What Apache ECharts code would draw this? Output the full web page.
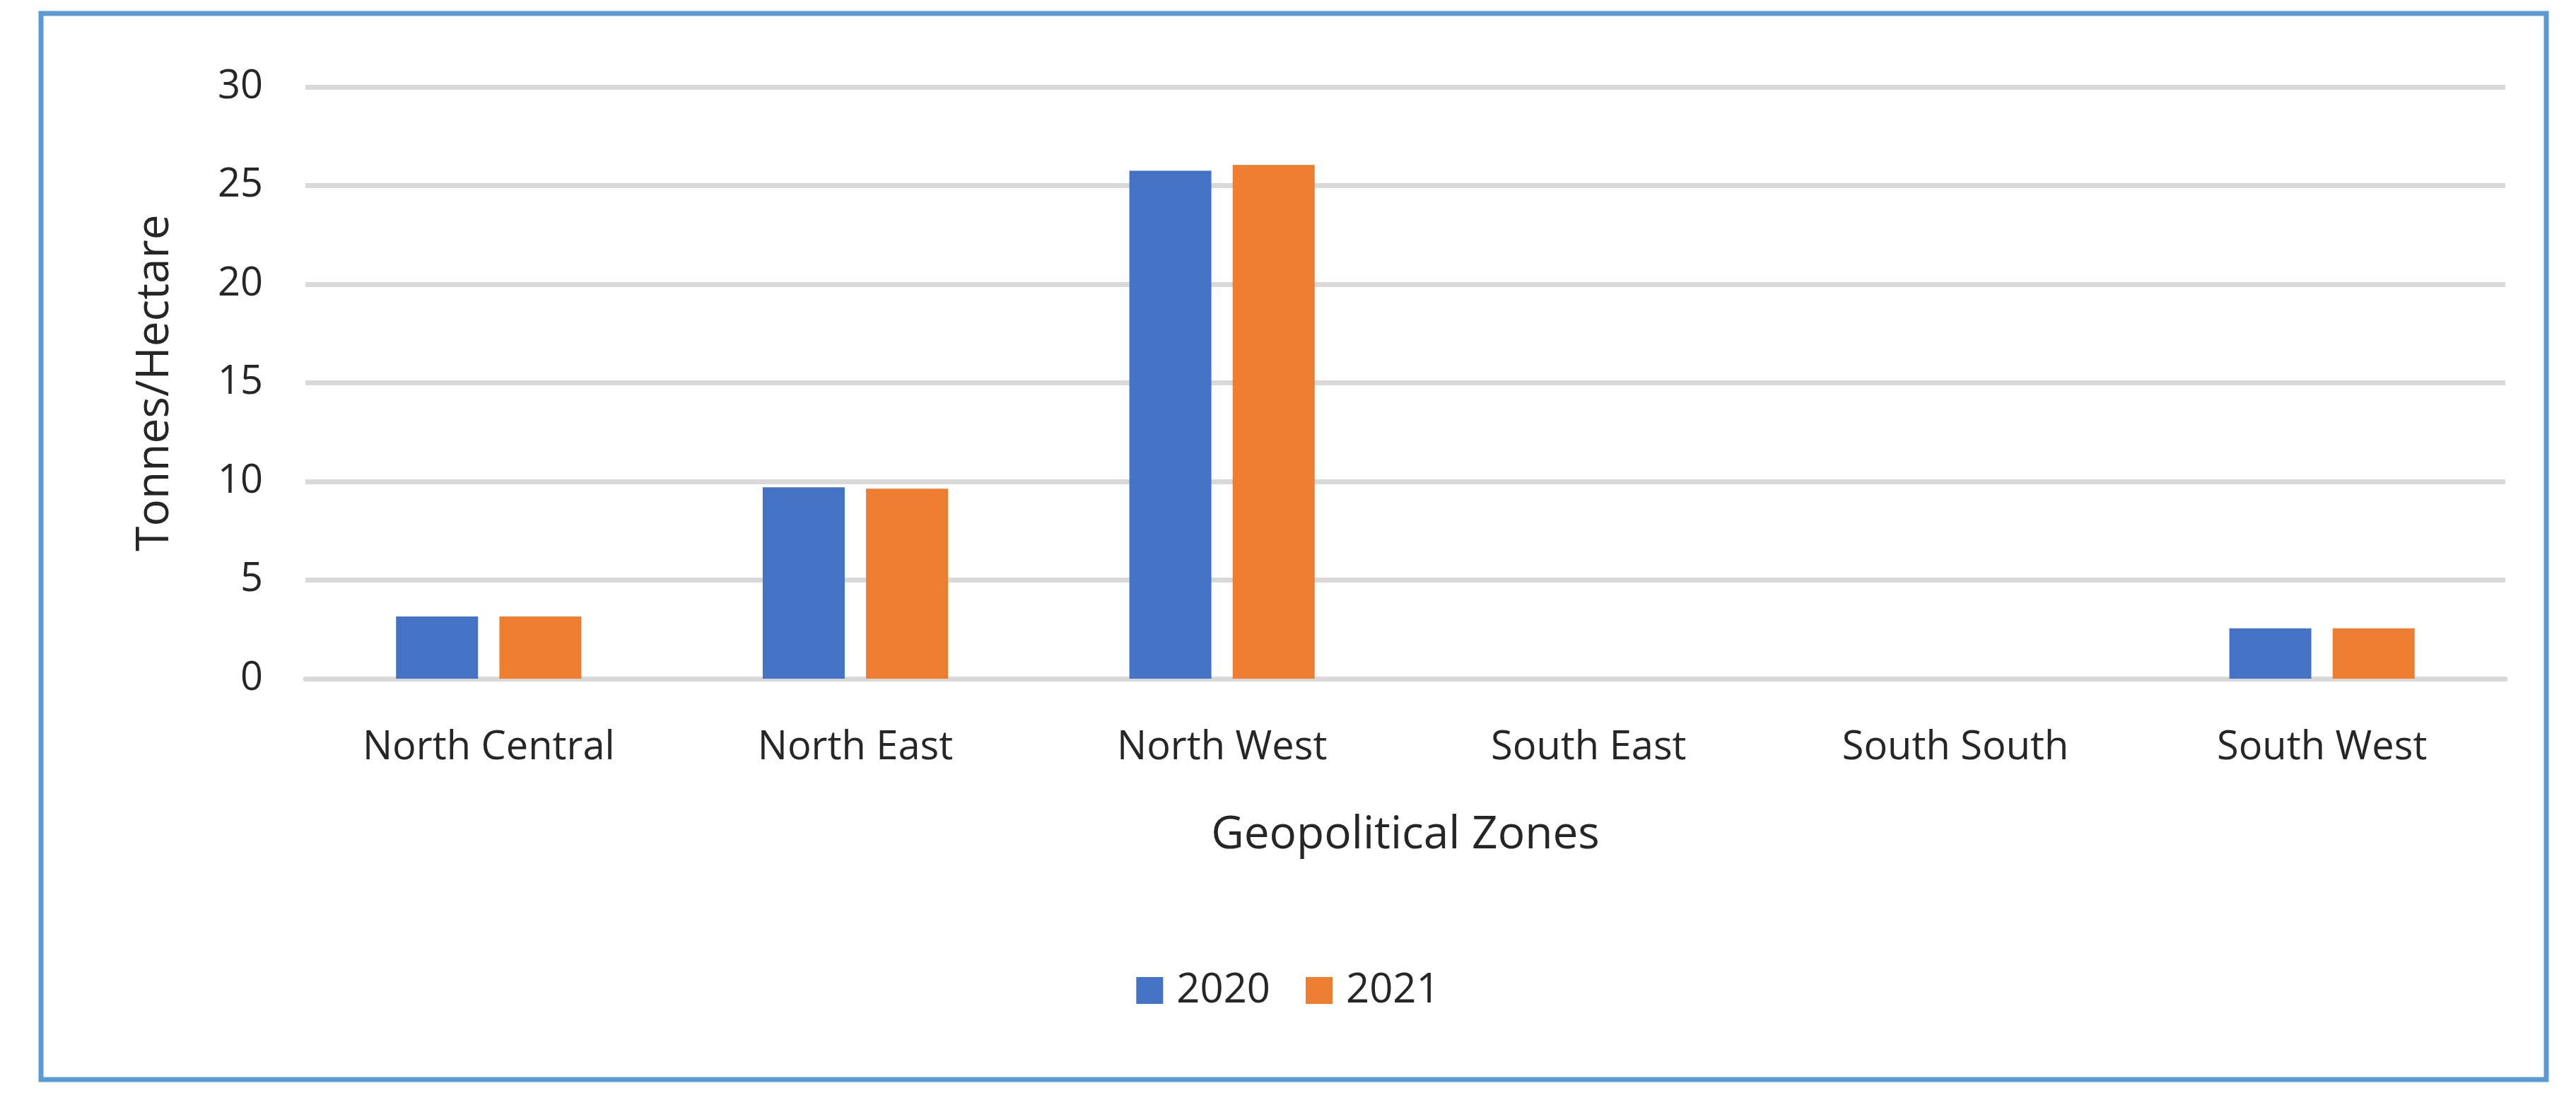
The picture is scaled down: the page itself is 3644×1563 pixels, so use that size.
<!DOCTYPE html>
<html>
<head>
<meta charset="utf-8">
<script src="https://cdn.jsdelivr.net/npm/echarts@6/dist/echarts.min.js"></script>
<style>
  html, body { margin: 0; padding: 0; background: #fff; }
  #chart { width: 3644px; height: 1563px; }
</style>
</head>
<body>
<div id="chart"></div>
<script>
// 地域区分
const zones = ['North Central', 'North East', 'North West', 'South East', 'South South', 'South West'];

// 年ごとの値 (Tonnes/Hectare)
const values2020 = [3.15, 9.7, 25.75, 0, 0, 2.55];
const values2021 = [3.15, 9.63, 26.05, 0, 0, 2.55];

const chart = echarts.init(document.querySelector('#chart'));
const font = 'Open Sans, Liberation Sans, sans-serif';

const option = {
  animation: false,
  textStyle: { fontFamily: font },
  // 外枠
  graphic: [{
    type: 'rect',
    shape: { x: 58, y: 19, width: 3544, height: 1508 },
    style: { fill: 'none', stroke: '#5b9bd5', lineWidth: 7 }
  }],
  legend: {
    bottom: 128,
    left: 'center',
    itemWidth: 38,
    itemHeight: 38,
    itemGap: 50,
    icon: 'rect',
    textStyle: { fontSize: 58, color: '#262626', fontFamily: font, padding: [0, 0, 0, 14] }
  },
  grid: { left: 432, right: 100, top: 123, bottom: 603 },
  xAxis: {
    type: 'category',
    data: zones,
    name: 'Geopolitical Zones',
    nameLocation: 'middle',
    nameGap: 190,
    nameTextStyle: { fontSize: 64, color: '#262626' },
    axisLine: { lineStyle: { color: '#d9d9d9', width: 7 } },
    axisTick: { show: false },
    axisLabel: { fontSize: 56, color: '#262626', margin: 70 }
  },
  yAxis: {
    type: 'value',
    min: 0,
    max: 30,
    interval: 5,
    name: 'Tonnes/Hectare',
    nameLocation: 'middle',
    nameGap: 180,
    nameTextStyle: { fontSize: 64, color: '#262626' },
    axisLine: { show: false },
    axisTick: { show: false },
    axisLabel: { fontSize: 56, color: '#262626', margin: 60 },
    splitLine: { lineStyle: { color: '#d9d9d9', width: 7 } }
  },
  series: [
    { name: '2020', type: 'bar', data: values2020, barWidth: 116, barGap: '26%', itemStyle: { color: '#4472c4' } },
    { name: '2021', type: 'bar', data: values2021, barWidth: 116, barGap: '26%', itemStyle: { color: '#ed7d31' } }
  ]
};

chart.setOption(option);
</script>
</body>
</html>
